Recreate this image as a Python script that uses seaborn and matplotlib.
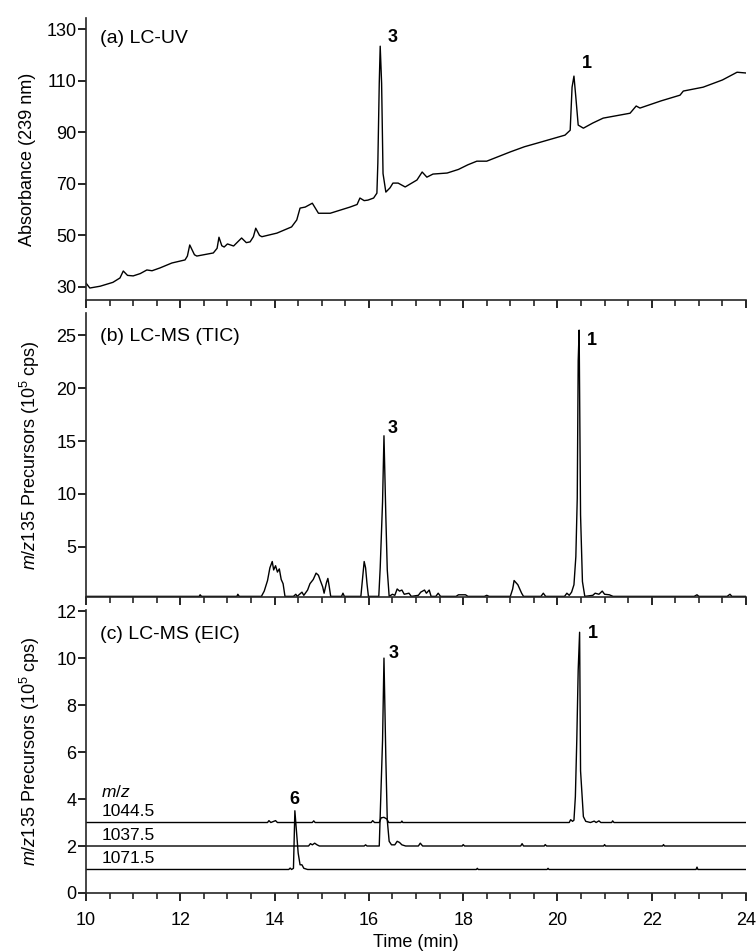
import numpy as np
import pandas as pd
import matplotlib
matplotlib.use('Agg')
import matplotlib.pyplot as plt
from matplotlib.ticker import MultipleLocator
import seaborn as sns

# (a) LC-UV trace
uv_time = [10.0, 10.08, 10.3, 10.57, 10.72, 10.79, 10.88, 11.0, 11.15, 11.29, 11.4, 11.57,
           11.82, 12.1, 12.15, 12.2, 12.3, 12.35, 12.7, 12.78, 12.82, 12.88, 12.93, 13.0,
           13.13, 13.3, 13.4, 13.48, 13.55, 13.6, 13.68, 13.73, 14.05, 14.36, 14.47, 14.54,
           14.65, 14.8, 14.93, 15.18, 15.6, 15.75, 15.81, 15.9, 15.98, 16.1, 16.17, 16.19,
           16.22, 16.24, 16.27, 16.3, 16.36, 16.45, 16.51, 16.62, 16.77, 17.02, 17.13, 17.23,
           17.36, 17.66, 17.9, 18.1, 18.29, 18.5, 19.0, 19.3, 19.57, 20.16, 20.27, 20.31,
           20.35, 20.39, 20.44, 20.55, 20.75, 20.97, 21.54, 21.67, 21.75, 22.2, 22.6, 22.67,
           23.09, 23.5, 23.81, 24.0]
uv_abs = [31.5, 29.6, 30.3, 31.8, 33.5, 36.2, 34.5, 34.3, 35.2, 36.6, 36.3, 37.4,
          39.3, 40.5, 42.0, 46.3, 42.5, 42.0, 43.2, 45.0, 49.3, 46.0, 45.5, 46.7,
          45.9, 49.0, 47.2, 47.5, 49.5, 52.8, 50.0, 49.5, 50.9, 53.3, 56.0, 60.6,
          61.0, 62.5, 58.6, 58.6, 61.0, 62.0, 64.5, 63.5, 63.7, 64.5, 66.4, 78.0,
          109.0, 123.4, 109.0, 74.0, 66.8, 68.5, 70.3, 70.3, 68.8, 71.5, 74.6, 72.6,
          73.8, 74.2, 75.6, 77.4, 78.8, 78.8, 82.4, 84.4, 85.8, 88.9, 90.8, 107.5,
          111.8, 103.6, 92.8, 91.6, 93.6, 95.5, 97.4, 100.2, 99.4, 102.2, 104.4, 106.0,
          107.5, 110.3, 113.3, 113.0]

# (b) LC-MS TIC trace
tic_time = [10.0, 12.4, 12.42, 12.45, 13.2, 13.22, 13.25, 13.72, 13.78, 13.85, 13.9, 13.95,
            13.98, 14.02, 14.06, 14.1, 14.14, 14.18, 14.22, 14.4, 14.45, 14.48, 14.58, 14.62,
            14.7, 14.75, 14.82, 14.88, 14.93, 14.97, 15.02, 15.05, 15.1, 15.13, 15.16, 15.19,
            15.42, 15.45, 15.48, 15.83, 15.87, 15.9, 15.93, 15.96, 15.99, 16.21, 16.24, 16.29,
            16.32, 16.36, 16.39, 16.43, 16.5, 16.55, 16.6, 16.65, 16.7, 16.75, 16.85, 16.9,
            17.05, 17.1, 17.18, 17.22, 17.28, 17.32, 17.42, 17.47, 17.52, 17.85, 17.9, 18.05,
            18.1, 18.45, 18.5, 18.55, 19.0, 19.05, 19.08, 19.12, 19.16, 19.2, 19.24, 19.28,
            19.65, 19.7, 19.75, 20.15, 20.2, 20.25, 20.3, 20.35, 20.39, 20.42, 20.44, 20.46,
            20.49, 20.53, 20.58, 20.75, 20.8, 20.88, 20.95, 21.0, 21.1, 21.18, 22.9, 22.96,
            23.0, 23.6, 23.66, 23.7, 24.0]
tic_int = [0.3, 0.3, 0.45, 0.3, 0.3, 0.5, 0.3, 0.3, 0.8, 1.8, 3.0, 3.6,
           2.8, 3.2, 2.6, 2.9, 1.9, 1.5, 0.3, 0.3, 0.5, 0.3, 0.7, 0.4,
           0.9, 1.5, 1.9, 2.5, 2.3, 1.8, 1.2, 0.6, 1.6, 2.0, 1.2, 0.3,
           0.3, 0.6, 0.3, 0.3, 2.2, 3.6, 3.0, 1.5, 0.3, 0.3, 3.0, 9.25,
           15.5, 7.8, 2.8, 0.3, 0.5, 0.4, 1.0, 0.8, 0.9, 0.5, 0.6, 0.3,
           0.4, 0.7, 0.9, 0.6, 0.9, 0.3, 0.3, 0.6, 0.3, 0.3, 0.45, 0.45,
           0.3, 0.3, 0.4, 0.3, 0.3, 1.0, 1.8, 1.6, 1.4, 1.0, 0.6, 0.3,
           0.3, 0.6, 0.3, 0.3, 0.6, 0.4, 0.7, 1.4, 4.05, 9.6, 22.6, 25.5,
           8.0, 1.7, 0.3, 0.4, 0.6, 0.5, 0.8, 0.5, 0.45, 0.3, 0.3, 0.45,
           0.3, 0.3, 0.5, 0.3, 0.3]

# (c) LC-MS EIC traces (drawn stacked at 3, 2 and 1)
eic_labels = ['1044.5', '1037.5', '1071.5']
eic1044_time = [10.0, 13.85, 13.88, 13.92, 14.02, 14.06, 14.8, 14.83, 14.86, 16.05, 16.08, 16.12,
                16.22, 16.26, 16.32, 16.38, 16.42, 16.68, 16.7, 16.72, 20.25, 20.28, 20.32, 20.35,
                20.38, 20.41, 20.44, 20.47, 20.49, 20.55, 20.6, 20.7, 20.78, 20.82, 20.88, 20.92,
                21.15, 21.17, 21.2, 24.0]
eic1044_int = [3.0, 3.0, 3.08, 3.0, 3.08, 3.0, 3.0, 3.07, 3.0, 3.0, 3.08, 3.0,
               3.0, 3.2, 3.22, 3.15, 3.0, 3.0, 3.06, 3.0, 3.0, 3.12, 3.05, 3.1,
               4.1, 6.5, 9.5, 11.1, 5.2, 3.25, 3.05, 3.0, 3.06, 3.0, 3.07, 3.0,
               3.0, 3.07, 3.0, 3.0]
eic1037_time = [10.0, 14.72, 14.76, 14.8, 14.85, 14.9, 14.95, 15.9, 15.93, 15.96, 16.22, 16.24,
                16.29, 16.32, 16.36, 16.39, 16.43, 16.48, 16.55, 16.6, 16.65, 16.7, 16.78, 17.05,
                17.09, 17.14, 17.98, 18.0, 18.03, 19.22, 19.25, 19.28, 19.72, 19.74, 19.77, 20.98,
                21.0, 21.02, 22.23, 22.25, 22.27, 24.0]
eic1037_int = [2.0, 2.0, 2.1, 2.05, 2.12, 2.05, 2.0, 2.0, 2.05, 2.0, 2.0, 3.3,
               6.5, 10.0, 5.7, 3.1, 2.2, 2.05, 2.05, 2.2, 2.15, 2.05, 2.0, 2.0,
               2.12, 2.0, 2.0, 2.06, 2.0, 2.0, 2.1, 2.0, 2.0, 2.06, 2.0, 2.0,
               2.06, 2.0, 2.0, 2.06, 2.0, 2.0]
eic1071_time = [10.0, 14.3, 14.33, 14.36, 14.4, 14.43, 14.5, 14.54, 14.58, 14.62, 14.7, 18.28,
                18.3, 18.32, 19.78, 19.8, 19.82, 22.94, 22.96, 22.98, 24.0]
eic1071_int = [1.0, 1.0, 1.06, 1.0, 1.05, 3.5, 1.7, 1.2, 1.2, 1.05, 1.0, 1.0,
               1.05, 1.0, 1.0, 1.05, 1.0, 1.0, 1.1, 1.0, 1.0]

sns.set_style('ticks')
plt.rcParams['font.family'] = ['Liberation Sans', 'DejaVu Sans']
plt.rcParams['mathtext.fontset'] = 'custom'
plt.rcParams['mathtext.rm'] = 'Liberation Sans'
plt.rcParams['mathtext.it'] = 'Liberation Sans:italic'
plt.rcParams['axes.linewidth'] = 1.2
plt.rcParams['text.color'] = 'black'
plt.rcParams['axes.labelcolor'] = 'black'

fig = plt.figure(figsize=(7.56, 9.52), dpi=100)
ax_a = fig.add_axes([0.1138, 0.685, 0.873, 0.296])
ax_b = fig.add_axes([0.1138, 0.373, 0.873, 0.298])
ax_c = fig.add_axes([0.1138, 0.062, 0.873, 0.2973])

lw = 1.0
sns.lineplot(x=uv_time, y=uv_abs, ax=ax_a, color='black', linewidth=lw, estimator=None, sort=False)
sns.lineplot(x=tic_time, y=tic_int, ax=ax_b, color='black', linewidth=lw, estimator=None, sort=False)
for t, v in [(eic1044_time, eic1044_int), (eic1037_time, eic1037_int), (eic1071_time, eic1071_int)]:
    sns.lineplot(x=t, y=v, ax=ax_c, color='black', linewidth=lw, estimator=None, sort=False)

ax_a.set_ylim(25, 134.3)
ax_a.set_yticks([30, 50, 70, 90, 110, 130])
ax_b.set_ylim(0.25, 27.1)
ax_b.set_yticks([5, 10, 15, 20, 25])
ax_c.set_ylim(0, 12.05)
ax_c.set_yticks([0, 2, 4, 6, 8, 10, 12])

for ax in [ax_a, ax_b, ax_c]:
    ax.set_xlim(10, 24)
    ax.xaxis.set_major_locator(MultipleLocator(2))
    ax.xaxis.set_minor_locator(MultipleLocator(0.5))
    ax.tick_params(axis='both', which='major', direction='out', length=6, width=1.2,
                   labelsize=13, colors='black', pad=1)
    ax.tick_params(axis='x', which='major', pad=8)
    ax.tick_params(axis='x', which='minor', direction='out', length=4, width=1.2)
    sns.despine(ax=ax)
    ax.set_xlabel('')
    ax.set_ylabel('')

ax_a.tick_params(axis='x', labelbottom=False)
ax_b.tick_params(axis='x', labelbottom=False)

ax_a.set_ylabel('Absorbance (239 nm)', fontsize=13)
ax_a.yaxis.set_label_coords(-0.076, 0.5)
ax_b.set_ylabel(r'$m/z$135 Precursors (10$^5$ cps)', fontsize=13)
ax_b.yaxis.set_label_coords(-0.067, 0.5)
ax_c.set_ylabel(r'$m/z$135 Precursors (10$^5$ cps)', fontsize=13)
ax_c.yaxis.set_label_coords(-0.067, 0.5)
ax_c.set_xlabel('Time (min)', fontsize=13, labelpad=3)

ax_a.text(0.021, 0.929, '(a) LC-UV', transform=ax_a.transAxes, fontsize=14, va='center')
ax_b.text(0.021, 0.917, '(b) LC-MS (TIC)', transform=ax_b.transAxes, fontsize=14, va='center')
ax_c.text(0.021, 0.912, '(c) LC-MS (EIC)', transform=ax_c.transAxes, fontsize=14, va='center')

bold = dict(fontsize=13, fontweight='bold', ha='center', va='center')
ax_a.text(16.51, 126.9, '3', **bold)
ax_a.text(20.63, 116.8, '1', **bold)
ax_b.text(16.51, 16.2, '3', **bold)
ax_b.text(20.73, 24.5, '1', **bold)
ax_c.text(16.53, 10.2, '3', **bold)
ax_c.text(20.76, 11.06, '1', **bold)
ax_c.text(14.43, 4.0, '6', **bold)

ax_c.text(10.32, 4.3, r'$m/z$', fontsize=12.5, va='center')
for lab, base in zip(eic_labels, [3, 2, 1]):
    ax_c.text(10.34, base + 0.45, lab, fontsize=12.5, va='center')

fig.savefig('out.png', dpi=100)
